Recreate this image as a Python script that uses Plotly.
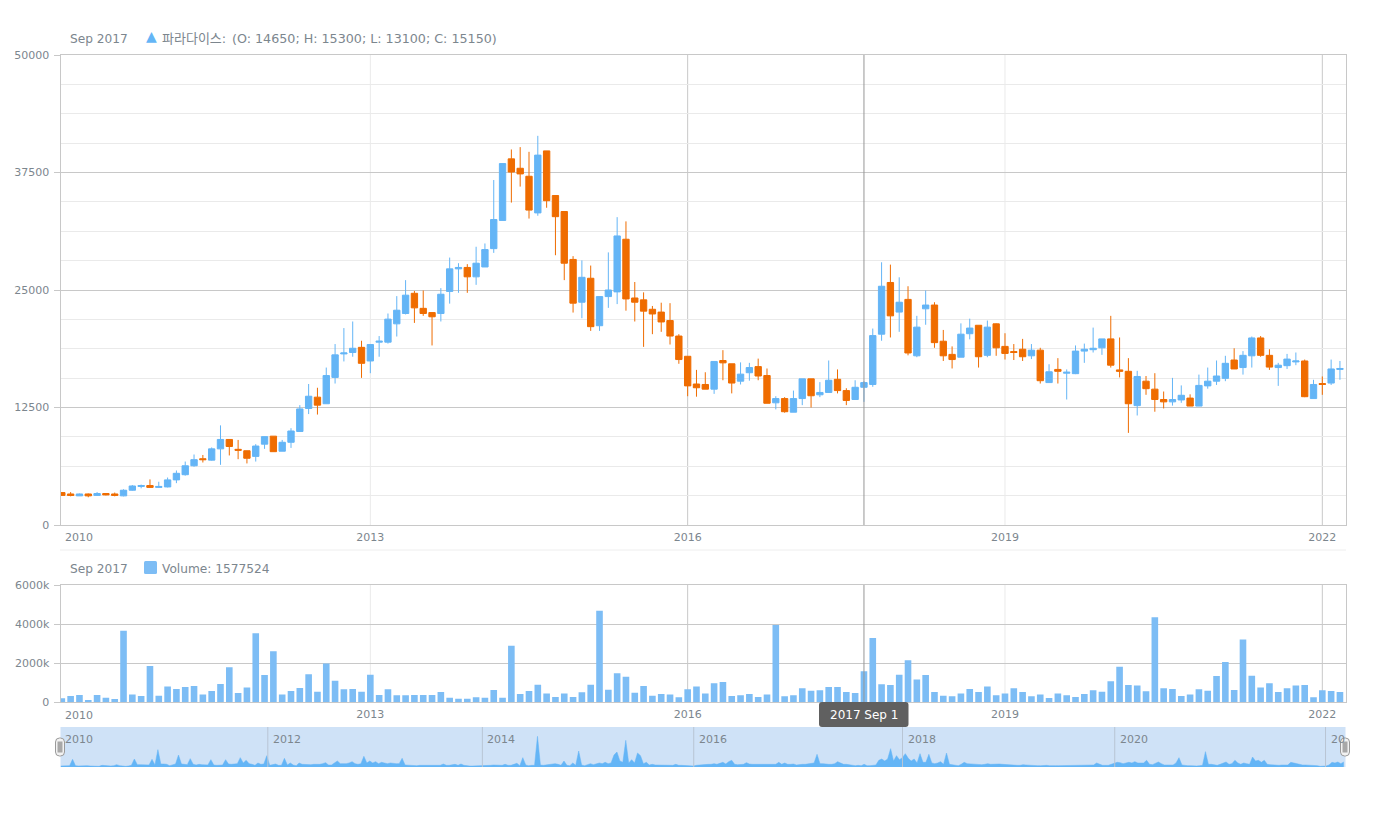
import pandas as pd
import plotly.graph_objects as go

W, H = 1375, 823
opens = [3450,3300,3100,3300,3150,3350,3300,3100,3700,4100,4200,4000,4050,4800,5350,6300,7050,6900,8100,9100,8050,7900,7300,8600,9450,7850,8800,9950,12400,13600,12900,15700,
 18200,18350,18900,17450,19450,19450,21400,22500,24650,23050,22600,22500,24850,27250,27400,26400,27450,29400,32400,38950,37950,37100,33200,39800,35050,33350,
 28250,23700,26250,21200,24300,24800,30400,24150,23950,22950,22650,21750,20100,17950,15000,14950,14450,17500,17150,15300,16200,16850,15900,13000,13450,12000,13450,15550,13850,14100,15500,14300,13350,14650,14950,
 20300,25800,22650,24000,18000,23000,23400,19550,18150,17850,20350,21250,18050,21400,19000,18450,18700,18000,18600,15150,16550,16150,16100,18500,18650,18850,
 19800,16500,16350,12700,15300,14450,13350,13100,13300,13500,12650,14800,15300,15600,17550,16750,18000,19900,18050,16750,16950,17350,17450,13450,15050,15100,16550]
highs = [3500,3500,3350,3350,3500,3400,3450,3800,4250,4300,4850,4600,5050,5800,6750,7500,7450,8250,10600,9100,9050,7900,8600,9400,9450,9050,10300,12750,15000,14600,16750,19250,
 20950,21650,19600,19200,20100,22500,24350,26050,24900,24950,22600,25200,28450,27850,27750,29600,29950,36700,38450,39950,40200,39700,41400,39800,35100,33350,
 28600,28150,27600,24300,29000,32750,32300,25850,24750,23300,23650,23600,20300,17950,16500,16250,17400,18600,17150,17300,17250,17700,16650,13700,13600,14300,15550,15550,15200,17500,16550,14550,15400,15300,20900,
 27950,27700,26350,25400,22250,24950,23700,20750,19000,21450,21950,21250,21750,21450,20400,19250,19800,19250,18850,17100,17750,16550,19100,19300,21000,19800,
 22250,19950,17750,16400,15850,16150,14200,15650,14850,13900,16000,16750,17500,18000,18800,18500,20050,20100,18700,17250,18200,18350,17600,15450,15800,17600,17450]
lows = [3150,3050,3100,2950,3100,3150,3050,3050,3650,3900,3950,3950,4000,4450,5250,6200,6650,6850,6400,7400,7000,6550,6750,8100,7800,7850,8200,9950,11800,11750,12900,15050,
 17400,17900,15650,16150,17900,19300,20050,22400,21500,22250,19100,21650,23550,24700,24700,25550,27450,28950,32400,34300,36000,32600,32900,33750,28700,26050,
 22600,22000,20650,20650,23100,23500,22800,21650,18950,20300,20550,19200,17150,13700,13650,14450,13950,15400,14000,14950,15350,15400,12950,12300,11950,12000,12750,12500,13600,14100,14000,12750,13350,13100,14700,
 19600,19950,20550,18050,17850,21300,18850,17450,16650,17850,19750,16750,17850,18000,17600,17550,17450,17650,15050,15150,15050,13350,16050,17250,18350,18100,
 16750,15700,9800,11650,13850,12050,12400,12700,13000,12650,12650,14500,14900,15300,16600,16000,16750,17900,16500,14800,16600,17000,13600,13450,13850,14900,15450]
closes = [3150,3150,3300,3100,3350,3200,3150,3700,4150,4200,4000,4100,4800,5500,6300,6950,6950,8100,9100,8350,7950,7100,8400,9400,7800,8800,10000,12350,13700,12750,15900,18100,
 18300,18800,17200,19200,19550,21900,22850,24450,23100,22500,22150,24550,27250,27400,26400,27850,29300,32500,38450,37550,37350,33500,39350,34500,32800,27850,
 23600,26350,21100,24300,25000,30750,24050,23700,22750,22450,21600,20100,17600,14800,14600,14450,17400,17250,15100,16050,16750,15850,12950,13450,12050,13450,15550,13750,14100,15400,14300,13250,14650,15150,20150,
 25400,22250,23700,18300,21050,23400,19400,18000,17600,20300,20950,17900,21050,18850,18250,18350,17900,18600,15350,16300,16350,16250,18500,18700,18800,19800,
 17000,16350,12900,15800,14500,13350,13100,13350,13800,12650,14850,15300,15850,17200,16600,18050,19900,18050,16800,17000,17650,17450,13650,14950,14950,16600,16650]
volumes_k = [190,310,360,100,360,220,150,3650,390,310,1850,320,790,670,770,820,390,560,920,1780,460,750,3520,1380,2600,390,560,720,1420,530,1970,1090,650,670,530,1400,
 360,650,340,340,360,360,360,510,220,170,170,240,220,620,220,2890,410,560,890,430,260,440,260,500,890,4680,630,1470,1300,480,820,320,410,380,240,650,800,430,
 960,1030,310,340,410,260,390,3950,290,340,700,580,600,770,770,510,460,1577.524,3280,910,870,1400,2140,1150,1380,510,320,290,440,670,510,800,340,440,700,510,290,390,
 205,430,340,260,410,600,530,1060,1810,870,850,550,4340,700,670,310,380,650,580,1330,2050,620,3200,1350,750,960,510,700,840,870,240,600,560,510]
overview_vol = [3,4,4,4,23,4,3,4,3,4,3,3,2,2,5,4,3,3,4,7,4,2,2,3,5,24,7,7,6,6,6,23,6,52,9,9,8,4,6,9,36,9,8,7,25,8,6,8,7,6,6,22,6,5,6,6,22,9,8,10,10,28,12,20,10,8,5,12,8,9,34,
 5,8,9,5,5,26,6,12,6,4,12,8,7,7,7,8,7,8,10,13,6,6,12,18,10,9,10,12,16,10,8,10,32,12,18,12,16,10,
 14,12,10,12,10,10,10,26,6,5,4,3,4,5,5,5,6,6,5,6,5,9,5,5,7,8,5,9,5,3,3,3,3,3,3,4,5,5,6,5,5,5,8,5,5,7,11,4,28,6,4,5,5,92,6,5,6,7,8,10,8,5,18,5,4,12,5,48,6,4,7,10,7,10,12,10,14,10,12,36,45,18,14,80,12,22,12,42,34,10,14,6,8,6,6,6,6,5,5,5,8,5,5,4,3,2,3,
 5,6,8,7,8,8,10,8,10,14,9,16,20,8,7,7,8,13,9,8,8,7,7,7,6,8,8,8,14,8,12,8,8,9,6,8,8,8,10,10,12,38,10,10,8,8,8,10,16,12,8,8,6,5,4,5,4,8,4,4,5,6,20,24,18,24,55,18,34,22,28,40,26,18,24,12,40,14,14,38,12,10,12,16,8,42,8,6,6,4,8,14,10,9,8,8,7,7,8,10,8,9,10,9,8,7,6,5,6,5,5,7,6,5,5,4,4,4,
 5,5,4,5,4,4,4,4,4,6,4,4,4,5,5,5,5,6,12,8,5,5,5,8,10,14,13,10,12,14,12,16,12,12,12,20,8,7,12,15,10,6,6,5,6,12,28,6,4,4,4,3,3,4,5,46,8,8,6,5,8,12,15,8,10,20,12,8,12,10,8,30,18,20,14,20,8,7,6,5,5,6,6,6,14,12,8,7,6,6,6,5,5,4,2,2,3,6,14,12,15,10,15]
price_ticks = [0, 12500, 25000, 37500, 50000]
price_tick_text = ["0", "12500", "25000", "37500", "50000"]
vol_ticks = [0, 2000, 4000, 6000]
vol_tick_text = ["0", "2000k", "4000k", "6000k"]
year_months = ["2013-01", "2016-01", "2019-01", "2022-01"]
year_labels = ["2013", "2016", "2019", "2022"]
overview_years = ["2012-01-01", "2014-01-11", "2016-01-11", "2018-01-01", "2020-01-04", "2022-01-01"]
overview_labels = ["2012", "2014", "2016", "2018", "2020", "20"]

months = list(pd.date_range("2010-02-01", periods=len(opens), freq="MS").strftime("%Y-%m"))
overview_dates = pd.date_range("2010-01-16", "2022-03-05", periods=len(overview_vol))
CUR = "2017-09"

BLUE, ORANGE, BAR = "#64b5f6", "#ef6c00", "#7dbdf5"
GRID, MINOR, TXT = "#c8c8c8", "#eaeaea", "#7c868e"
FONT = "DejaVu Sans, Noto Sans CJK KR, sans-serif"
px = lambda x: x / W
py = lambda y: 1 - y / H

fig = go.Figure()
fig.add_trace(go.Candlestick(x=months, open=opens, high=highs, low=lows, close=closes, xaxis="x", yaxis="y",
    increasing=dict(line=dict(color=BLUE, width=1), fillcolor=BLUE),
    decreasing=dict(line=dict(color=ORANGE, width=1), fillcolor=ORANGE), whiskerwidth=0, showlegend=False))
fig.add_trace(go.Bar(x=months, y=volumes_k, xaxis="x2", yaxis="y2", marker=dict(color=BAR, line=dict(width=0)), showlegend=False))
fig.add_trace(go.Scatter(x=overview_dates, y=overview_vol, xaxis="x3", yaxis="y3", mode="lines",
    line=dict(color=BLUE, width=0.5), fill="tozeroy", fillcolor=BLUE, showlegend=False))

xr = [-0.15, 145.63]
xdom = [px(60.5), px(1345.5)]
xcommon = dict(type="category", categoryorder="array", categoryarray=months, range=xr, showgrid=False, zeroline=False, automargin=False,
    tickmode="array", tickvals=year_months, ticktext=year_labels, ticks="", showline=True, linecolor=GRID, linewidth=1, mirror=True,
    tickfont=dict(family=FONT, size=11, color=TXT), ticklabelstandoff=2, domain=xdom, rangeslider=dict(visible=False))
ycommon = dict(showgrid=True, gridcolor=GRID, gridwidth=1, zeroline=False, showline=True, linecolor=GRID, mirror=True, automargin=False,
    ticks="outside", ticklen=6, tickcolor=GRID, tickfont=dict(family=FONT, size=11, color=TXT), ticklabelstandoff=2)

shapes = []
for ax, dom in (("x", "y domain"), ("x2", "y2 domain")):
    for m, col in zip(year_months, [MINOR, GRID, MINOR, GRID]):
        shapes.append(dict(type="line", xref=ax, yref=dom, x0=m, x1=m, y0=0, y1=1, layer="below", line=dict(color=col, width=1)))
    shapes.append(dict(type="line", xref=ax, yref=dom, x0=CUR, x1=CUR, y0=0, y1=1, layer="above", line=dict(color="#969696", width=1)))
shapes.append(dict(type="line", xref="paper", yref="paper", x0=px(60), x1=px(1346), y0=py(550), y1=py(550), line=dict(color="#eeeeee", width=1)))
shapes.append(dict(type="rect", xref="x3 domain", yref="y3 domain", x0=0, x1=1, y0=0, y1=1, layer="below", fillcolor="#cfe2f7", line=dict(width=0)))
for d in overview_years:
    shapes.append(dict(type="line", xref="x3", yref="y3 domain", x0=d, x1=d, y0=0, y1=1, layer="above", line=dict(color="#b8c5d4", width=1)))

def rrect(x0, y0, x1, y1, r):
    X0, X1, Y0, Y1 = px(x0), px(x1), py(y0), py(y1)
    rx, ry = r / W, r / H
    return (f"M{X0+rx},{Y0} L{X1-rx},{Y0} Q{X1},{Y0} {X1},{Y0-ry} L{X1},{Y1+ry} Q{X1},{Y1} {X1-rx},{Y1} "
            f"L{X0+rx},{Y1} Q{X0},{Y1} {X0},{Y1+ry} L{X0},{Y0-ry} Q{X0},{Y0} {X0+rx},{Y0} Z")

for cx in (60, 1345):
    shapes.append(dict(type="path", xref="paper", yref="paper", path=rrect(cx-4.5, 738, cx+4.5, 756, 4), fillcolor="#f2f2f2", line=dict(color="#9a9a9a", width=1)))
    shapes.append(dict(type="rect", xref="paper", yref="paper", x0=px(cx-2.5), x1=px(cx+2.5), y0=py(741.5), y1=py(752.5), fillcolor="#a8a8a8", line=dict(width=0)))
shapes.append(dict(type="path", xref="paper", yref="paper", path=rrect(819, 702, 908.5, 727, 3), fillcolor="#606060", line=dict(width=0)))
shapes.append(dict(type="path", xref="paper", yref="paper", path=rrect(144, 561, 157, 574, 1.5), fillcolor=BAR, line=dict(width=0)))

def note(text, x, y, size=11, color=TXT, anchor="left"):
    return dict(text=text, xref="paper", yref="paper", x=px(x), y=py(y), xanchor=anchor, yanchor="middle", showarrow=False,
                font=dict(family=FONT, size=size, color=color), borderpad=0, borderwidth=0)

d = months.index(CUR)
anns = [
    note("Sep 2017", 70, 38.5, size=12.2),
    note("▲", 151, 36.5, size=14, color=BLUE, anchor="center"),
    note("파라다이스:", 162, 38.5, size=13),
    note(f"(O: {opens[d]}; H: {highs[d]}; L: {lows[d]}; C: {closes[d]})", 232, 38.5, size=12.7),
    note("Sep 2017", 70, 568.5, size=12.2),
    note(f"Volume: {round(volumes_k[d]*1000)}", 162, 568.5, size=12.2),
    note("2010", 65, 537),
    note("2010", 65, 715),
    note("2017 Sep 1", 863.5, 715, size=12, color="#ffffff", anchor="center"),
    note("2010", 65, 739),
]
for d_, t in zip(overview_years, overview_labels):
    anns.append(dict(text=t, xref="x3", yref="paper", x=d_, y=py(739), xanchor="left", yanchor="middle", xshift=3, showarrow=False,
                     font=dict(family=FONT, size=11, color=TXT)))

fig.update_layout(
    width=W, height=H, margin=dict(l=0, r=0, t=0, b=0), autosize=False, paper_bgcolor="#ffffff", plot_bgcolor="#ffffff",
    hovermode=False, bargap=0.25, boxgap=0.28, boxgroupgap=0, showlegend=False, font=dict(family=FONT, size=11, color=TXT),
    xaxis=dict(**xcommon, anchor="y"),
    xaxis2=dict(**xcommon, anchor="y2"),
    xaxis3=dict(type="date", domain=xdom, range=["2010-01-15", "2022-03-11"], anchor="y3", showgrid=False, showticklabels=False,
                ticks="", zeroline=False, showline=False, automargin=False),
    yaxis=dict(**ycommon, domain=[py(525), py(55)], range=[0, 50000], tickmode="array", tickvals=price_ticks, ticktext=price_tick_text, anchor="x",
               minor=dict(dtick=3125, tick0=0, showgrid=True, gridcolor=MINOR, gridwidth=1, ticks="")),
    yaxis2=dict(**ycommon, domain=[py(702), py(585)], range=[0, 6000], tickmode="array", tickvals=vol_ticks, ticktext=vol_tick_text, anchor="x2"),
    yaxis3=dict(domain=[py(767), py(727)], range=[0, 120], anchor="x3", showgrid=False, showticklabels=False, ticks="", zeroline=False, showline=False, automargin=False),
    shapes=shapes, annotations=anns,
)
fig.write_html("out.html", config=dict(displayModeBar=False), post_script="document.body.style.margin='0';document.body.style.overflow='hidden';")
